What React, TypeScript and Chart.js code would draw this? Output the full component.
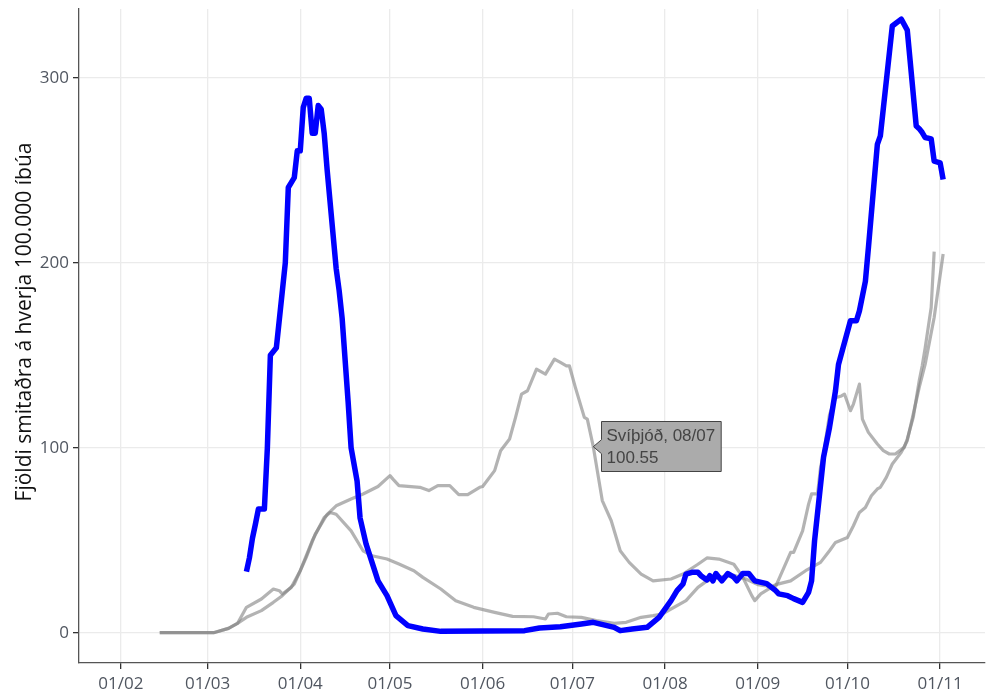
import React, { useEffect, useRef } from "react";
import { Chart, registerables } from "chart.js";

Chart.register(...registerables);

// Ísland
const isDates = [
  "2020-03-14", "2020-03-15", "2020-03-16", "2020-03-17", "2020-03-18", "2020-03-20", "2020-03-21",
  "2020-03-22", "2020-03-24", "2020-03-27", "2020-03-28", "2020-03-30", "2020-03-31", "2020-04-01",
  "2020-04-02", "2020-04-03", "2020-04-04", "2020-04-05", "2020-04-06", "2020-04-07", "2020-04-08",
  "2020-04-09", "2020-04-10", "2020-04-13", "2020-04-14", "2020-04-15", "2020-04-17", "2020-04-18",
  "2020-04-20", "2020-04-21", "2020-04-23", "2020-04-27", "2020-04-30", "2020-05-03", "2020-05-07",
  "2020-05-12", "2020-05-18", "2020-06-15", "2020-06-20", "2020-06-27", "2020-07-04", "2020-07-08",
  "2020-07-15", "2020-07-17", "2020-07-21", "2020-07-26", "2020-07-28", "2020-07-30", "2020-08-03",
  "2020-08-05", "2020-08-07", "2020-08-08", "2020-08-10", "2020-08-12", "2020-08-13", "2020-08-15",
  "2020-08-16", "2020-08-17", "2020-08-18", "2020-08-20", "2020-08-22", "2020-08-24", "2020-08-25",
  "2020-08-27", "2020-08-29", "2020-08-31", "2020-09-04", "2020-09-07", "2020-09-08", "2020-09-11",
  "2020-09-13", "2020-09-16", "2020-09-18", "2020-09-19", "2020-09-20", "2020-09-23", "2020-09-25",
  "2020-09-27", "2020-09-28", "2020-10-02", "2020-10-04", "2020-10-05", "2020-10-07", "2020-10-08",
  "2020-10-11", "2020-10-12", "2020-10-16", "2020-10-19", "2020-10-21", "2020-10-24", "2020-10-25",
  "2020-10-26", "2020-10-27", "2020-10-29", "2020-10-30", "2020-11-01", "2020-11-02",
];
const isValues = [
  33, 40.5, 51, 58.7, 66.9, 66.9, 100,
  150, 154, 200, 240.7, 246, 260.5, 260.5,
  284, 289, 289, 270, 270, 285, 283,
  270, 250, 197, 185, 170, 125, 100,
  82, 62, 48, 28, 20, 9.2, 3.8,
  2, 0.7, 1.1, 2.5, 3.2, 4.7, 5.6,
  2.9, 1.1, 2, 2.9, 5.6, 8.3, 17.3,
  22.7, 26.3, 31.7, 32.6, 32.6, 30.8, 28.5,
  30.8, 28, 32, 28, 32, 30, 28,
  32, 32, 28, 26.5, 22.7, 21, 20,
  18.4, 16.4, 21.8, 28, 49.7, 94.8, 111,
  130.8, 145, 168.6, 168.6, 174, 190, 208,
  264, 268.6, 328, 331.7, 325.8, 274, 272.5,
  270.4, 267.7, 267, 255, 254, 245,
];

// Svíþjóð
const seDates = [
  "2020-02-14", "2020-03-03", "2020-03-08", "2020-03-11", "2020-03-14", "2020-03-19", "2020-03-23",
  "2020-03-26", "2020-03-30", "2020-04-03", "2020-04-06", "2020-04-10", "2020-04-13", "2020-04-18",
  "2020-04-22", "2020-04-27", "2020-05-01", "2020-05-02", "2020-05-04", "2020-05-08", "2020-05-11",
  "2020-05-14", "2020-05-17", "2020-05-21", "2020-05-24", "2020-05-27", "2020-05-31", "2020-06-01",
  "2020-06-05", "2020-06-07", "2020-06-10", "2020-06-12", "2020-06-14", "2020-06-16", "2020-06-19",
  "2020-06-22", "2020-06-25", "2020-06-27", "2020-06-29", "2020-06-30", "2020-07-02", "2020-07-05",
  "2020-07-06", "2020-07-08", "2020-07-11", "2020-07-14", "2020-07-17", "2020-07-20", "2020-07-24",
  "2020-07-28", "2020-08-03", "2020-08-07", "2020-08-12", "2020-08-15", "2020-08-19", "2020-08-24",
  "2020-08-27", "2020-08-30", "2020-08-31", "2020-09-02", "2020-09-07", "2020-09-12", "2020-09-17",
  "2020-09-22", "2020-09-25", "2020-09-27", "2020-10-01", "2020-10-03", "2020-10-05", "2020-10-07",
  "2020-10-09", "2020-10-11", "2020-10-12", "2020-10-14", "2020-10-16", "2020-10-19", "2020-10-21",
  "2020-10-23", "2020-10-25", "2020-10-27", "2020-10-30", "2020-11-02",
];
const seValues = [
  0, 0, 2.3, 5, 8.3, 11.9, 16.4,
  20, 26.3, 40.7, 53.3, 64, 68.6, 72.3,
  75, 79, 84.9, 83, 79.5, 79, 78.6,
  76.8, 79.5, 79.5, 74.6, 74.6, 78.6, 79,
  87.6, 98.4, 104.7, 116.4, 129, 130.8, 142.5,
  139.8, 147.9, 146.1, 144.3, 144.3, 132.6, 116.4,
  115.5, 100.55, 71.4, 60.5, 44.3, 38, 31.7,
  28, 29, 31.7, 37, 40.4, 39.8, 37,
  30, 20, 17.3, 21, 26, 28, 33.5,
  38, 44.3, 48.8, 51.5, 57.8, 65, 67.7,
  74, 77.7, 78.6, 84, 91.2, 97.5, 103.8,
  118.2, 132.6, 145.2, 170.4, 204.7,
];

// Danmörk
const dkDates = [
  "2020-02-14", "2020-03-03", "2020-03-08", "2020-03-11", "2020-03-14", "2020-03-19", "2020-03-23",
  "2020-03-25", "2020-03-26", "2020-03-29", "2020-04-01", "2020-04-05", "2020-04-09", "2020-04-11",
  "2020-04-13", "2020-04-18", "2020-04-22", "2020-04-25", "2020-04-30", "2020-05-04", "2020-05-09",
  "2020-05-12", "2020-05-18", "2020-05-23", "2020-05-29", "2020-06-05", "2020-06-11", "2020-06-18",
  "2020-06-22", "2020-06-23", "2020-06-26", "2020-06-29", "2020-07-04", "2020-07-09", "2020-07-15",
  "2020-07-19", "2020-07-24", "2020-07-28", "2020-07-31", "2020-08-08", "2020-08-12", "2020-08-15",
  "2020-08-19", "2020-08-24", "2020-08-28", "2020-09-01", "2020-09-05", "2020-09-07", "2020-09-12",
  "2020-09-13", "2020-09-16", "2020-09-18", "2020-09-19", "2020-09-21", "2020-09-22", "2020-09-23",
  "2020-09-25", "2020-09-27", "2020-09-29", "2020-09-30", "2020-10-02", "2020-10-03", "2020-10-05",
  "2020-10-06", "2020-10-08", "2020-10-11", "2020-10-13", "2020-10-15", "2020-10-17", "2020-10-20",
  "2020-10-21", "2020-10-23", "2020-10-25", "2020-10-26", "2020-10-27", "2020-10-29", "2020-10-30",
];
const dkValues = [
  0, 0, 2.3, 5, 13.7, 18.2, 23.6,
  22.7, 20.9, 24.5, 33.5, 49.7, 62.3, 65,
  64, 55, 44.3, 41.6, 39.8, 37.1, 33.5,
  29.9, 23.6, 17.3, 13.7, 11, 8.8, 8.6,
  7.4, 10.1, 10.5, 8.6, 8.3, 6.5, 5,
  5.6, 8.3, 9.2, 10.1, 17.3, 24.5, 28,
  30, 31, 29, 26, 25, 25, 43.4,
  43.4, 55, 69.5, 75, 75, 89.4, 96.6,
  118, 127, 128, 129, 120, 123.6, 134.4,
  115.5, 108.3, 102, 98.4, 96.6, 96.6, 100.2,
  104.7, 116.4, 136.2, 144.3, 154, 175.8, 206,
];

const xTickDates = [
  "2020-02-01", "2020-03-01", "2020-04-01", "2020-05-01", "2020-06-01",
  "2020-07-01", "2020-08-01", "2020-09-01", "2020-10-01", "2020-11-01",
];
const yTickValues = [0, 100, 200, 300];
const yTitle = "Fjöldi smitaðra á hverja 100.000 íbúa";
const hoverSeries = "Svíþjóð";
const hoverDate = "2020-07-08";

const DAY = 86400000;
const BASE = Date.UTC(2020, 0, 1);
const toDay = (s: string) => {
  const [y, m, d] = s.split("-").map(Number);
  return (Date.UTC(y, m - 1, d) - BASE) / DAY;
};
const fmtDay = (v: number) => {
  const dt = new Date(BASE + Math.round(v) * DAY);
  const dd = String(dt.getUTCDate()).padStart(2, "0");
  const mm = String(dt.getUTCMonth() + 1).padStart(2, "0");
  return `${dd}/${mm}`;
};
const toPoints = (dates: string[], vals: number[]) =>
  dates.map((d, i) => ({ x: toDay(d), y: vals[i] }));

const FONT = "'Open Sans', 'Noto Sans', sans-serif";
const HOVER_FONT = "'Liberation Sans', Arial, sans-serif";

const yTitlePlugin = {
  id: "yTitleText",
  afterDraw(chart: any) {
    const ctx = chart.ctx;
    ctx.save();
    ctx.translate(25.5, 322);
    ctx.rotate(-Math.PI / 2);
    ctx.font = `21px ${FONT}`;
    ctx.fillStyle = "#111111";
    ctx.textAlign = "center";
    ctx.textBaseline = "middle";
    ctx.fillText(yTitle, 0, 0);
    ctx.restore();
  },
};

const hoverPlugin = {
  id: "hoverLabel",
  afterDatasetsDraw(chart: any) {
    const dsIndex = chart.data.datasets.findIndex((d: any) => d.label === hoverSeries);
    if (dsIndex < 0) return;
    const meta = chart.getDatasetMeta(dsIndex);
    const idx = seDates.indexOf(hoverDate);
    const el = meta.data[idx];
    if (!el) return;
    const x0 = el.x;
    const y0 = el.y;
    const val = seValues[idx];
    const l1 = `${hoverSeries}, ${fmtDay(toDay(hoverDate))}`;
    const l2 = val.toFixed(2);
    const ctx = chart.ctx;
    ctx.save();
    ctx.font = `17px ${HOVER_FONT}`;
    const w = Math.max(ctx.measureText(l1).width, ctx.measureText(l2).width) + 11;
    const left = Math.round(x0 + 8) + 0.5;
    const top = Math.round(y0 - 25.7) + 0.5;
    const h = 50;
    ctx.beginPath();
    ctx.moveTo(x0, y0);
    ctx.lineTo(left, y0 - 7);
    ctx.lineTo(left, top);
    ctx.lineTo(left + w, top);
    ctx.lineTo(left + w, top + h);
    ctx.lineTo(left, top + h);
    ctx.lineTo(left, y0 + 7);
    ctx.closePath();
    ctx.fillStyle = "#ababab";
    ctx.fill();
    ctx.strokeStyle = "#444444";
    ctx.lineWidth = 1;
    ctx.stroke();
    ctx.fillStyle = "#444444";
    ctx.textAlign = "left";
    ctx.textBaseline = "alphabetic";
    ctx.fillText(l1, left + 5, y0 - 6);
    ctx.fillText(l2, left + 5, y0 + 16.6);
    ctx.restore();
  },
};

export default function App() {
  const canvasRef = useRef<HTMLCanvasElement | null>(null);

  useEffect(() => {
    if (!canvasRef.current) return;
    const tickColor = "#505660";
    const chart = new Chart(canvasRef.current, {
      type: "line",
      data: {
        datasets: [
          {
            label: "Ísland",
            data: toPoints(isDates, isValues),
            borderColor: "#0000ff",
            borderWidth: 5.5,
            pointRadius: 0,
            tension: 0,
            borderJoinStyle: "round",
            borderCapStyle: "butt",
          },
          {
            label: "Svíþjóð",
            data: toPoints(seDates, seValues),
            borderColor: "rgba(128,128,128,0.6)",
            borderWidth: 3.2,
            pointRadius: 0,
            tension: 0,
            borderJoinStyle: "round",
          },
          {
            label: "Danmörk",
            data: toPoints(dkDates, dkValues),
            borderColor: "rgba(128,128,128,0.6)",
            borderWidth: 3.2,
            pointRadius: 0,
            tension: 0,
            borderJoinStyle: "round",
          },
        ],
      },
      options: {
        animation: false,
        responsive: false,
        maintainAspectRatio: false,
        devicePixelRatio: 1,
        events: [],
        layout: { padding: { top: 9, right: 1, left: 0, bottom: 0 } },
        plugins: {
          legend: { display: false },
          tooltip: { enabled: false },
          title: { display: false },
        },
        scales: {
          x: {
            type: "linear",
            min: 17,
            max: 320,
            afterBuildTicks: (scale: any) => {
              scale.ticks = xTickDates.map((d) => ({ value: toDay(d) }));
            },
            afterFit: (scale: any) => {
              scale.height = 31;
              scale.paddingLeft = 0;
              scale.paddingRight = 0;
            },
            ticks: {
              autoSkip: false,
              maxRotation: 0,
              minRotation: 0,
              padding: 5,
              color: tickColor,
              font: { family: FONT, size: 17 },
              callback: (v: any) => fmtDay(Number(v)),
            },
            grid: {
              color: "#ebebeb",
              lineWidth: 1.3,
              tickLength: 6,
              tickColor: "#333333",
              tickWidth: 1.3,
            },
            border: { display: true, color: "#555555", width: 1.3 },
          },
          y: {
            type: "linear",
            min: -16.4,
            max: 337.2,
            afterBuildTicks: (scale: any) => {
              scale.ticks = yTickValues.map((v) => ({ value: v }));
            },
            afterFit: (scale: any) => {
              scale.width = 79;
              scale.paddingTop = 0;
              scale.paddingBottom = 0;
            },
            ticks: {
              padding: 4,
              color: tickColor,
              font: { family: FONT, size: 17 },
              callback: (v: any) => String(v),
            },
            grid: {
              color: "#ebebeb",
              lineWidth: 1.3,
              tickLength: 6,
              tickColor: "#333333",
              tickWidth: 1.3,
            },
            border: { display: true, color: "#555555", width: 1.3 },
          },
        },
      },
      plugins: [yTitlePlugin, hoverPlugin],
    } as any);
    return () => chart.destroy();
  }, []);

  return (
    <div
      style={{
        position: "fixed",
        left: 0,
        top: 0,
        width: 986,
        height: 694,
        background: "#ffffff",
      }}
    >
      <canvas ref={canvasRef} width={986} height={694} style={{ display: "block" }} />
    </div>
  );
}
